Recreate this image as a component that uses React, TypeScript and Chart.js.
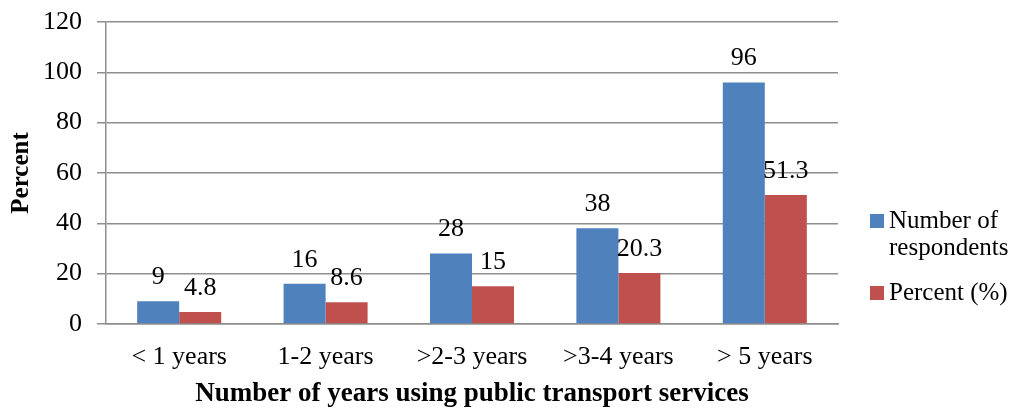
import React, { useEffect, useRef } from "react";
import { Chart, registerables } from "chart.js";

Chart.register(...registerables);

const categories = ["< 1 years", "1-2 years", ">2-3 years", ">3-4 years", "> 5 years"];
const respondents = [9, 16, 28, 38, 96];
const percents = [4.8, 8.6, 15, 20.3, 51.3];
const respondentLabels = ["9", "16", "28", "38", "96"];
const percentLabels = ["4.8", "8.6", "15", "20.3", "51.3"];
const legendLines = [["Number of", "respondents"], ["Percent (%)"]];
const yTitle = "Percent";
const xTitle = "Number of years using public transport services";

const BLUE = "#4F81BD";
const RED = "#C0504D";
const GRID = "#8e8e8e";
const FONT = "'Liberation Serif', 'Times New Roman', serif";

const valueLabels = {
  id: "valueLabels",
  afterDatasetsDraw(chart: any) {
    const ctx = chart.ctx;
    const texts = [respondentLabels, percentLabels];
    ctx.save();
    ctx.font = `26px ${FONT}`;
    ctx.fillStyle = "#000";
    ctx.textAlign = "center";
    ctx.textBaseline = "middle";
    chart.data.datasets.forEach((ds: any, di: number) => {
      const meta = chart.getDatasetMeta(di);
      meta.data.forEach((bar: any, i: number) => {
        ctx.fillText(texts[di][i], bar.x, bar.y - 24);
      });
    });
    ctx.restore();
  },
};

const sideLegend = {
  id: "sideLegend",
  afterDraw(chart: any) {
    const ctx = chart.ctx;
    const area = chart.chartArea;
    const colors = [BLUE, RED];
    const sqX = area.right + 32;
    const txtX = area.right + 51;
    const starts = [221, 293];
    ctx.save();
    ctx.font = `25px ${FONT}`;
    ctx.fillStyle = "#000";
    ctx.textAlign = "left";
    ctx.textBaseline = "middle";
    legendLines.forEach((lines, i) => {
      const y0 = starts[i];
      ctx.fillStyle = colors[i];
      ctx.fillRect(sqX, y0 - 7, 14, 14);
      ctx.fillStyle = "#000";
      lines.forEach((ln, j) => {
        ctx.fillText(ln, txtX, y0 + j * 27);
      });
    });
    ctx.restore();
  },
};

export default function App() {
  const ref = useRef<HTMLCanvasElement | null>(null);

  useEffect(() => {
    if (!ref.current) return;
    Chart.defaults.font.family = FONT;
    Chart.defaults.color = "#000";
    const chart = new Chart(ref.current, {
      type: "bar",
      data: {
        labels: categories,
        datasets: [
          {
            label: "Number of respondents",
            data: respondents,
            backgroundColor: BLUE,
            categoryPercentage: 0.574,
            barPercentage: 1,
          },
          {
            label: "Percent (%)",
            data: percents,
            backgroundColor: RED,
            categoryPercentage: 0.574,
            barPercentage: 1,
          },
        ],
      },
      options: {
        animation: false,
        responsive: false,
        maintainAspectRatio: false,
        layout: { padding: { left: 0, right: 180, top: 22, bottom: 0 } },
        plugins: {
          legend: { display: false },
          tooltip: { enabled: false },
        },
        scales: {
          x: {
            grid: { display: false, drawTicks: false },
            border: { display: true, color: GRID, width: 1.5 },
            ticks: { font: { size: 26, family: FONT }, color: "#000", padding: 18, maxRotation: 0 },
            title: {
              display: true,
              text: xTitle,
              font: { size: 27, weight: "bold", family: FONT },
              color: "#000",
              padding: { top: 0, bottom: 0 },
            },
            afterFit(scale: any) {
              scale.height = 86;
              scale.paddingLeft = 0;
              scale.paddingRight = 0;
            },
          },
          y: {
            min: 0,
            max: 120,
            ticks: { stepSize: 20, font: { size: 26, family: FONT }, color: "#000", padding: 15 },
            grid: { color: GRID, lineWidth: 1.5, tickLength: 9, drawTicks: true },
            border: { display: true, color: GRID, width: 1.5 },
            title: {
              display: true,
              text: yTitle,
              font: { size: 25, weight: "bold", family: FONT },
              color: "#000",
              padding: { top: 7, bottom: 0 },
            },
            afterFit(scale: any) {
              scale.width = 106;
              scale.paddingTop = 0;
              scale.paddingBottom = 0;
            },
          },
        },
      },
      plugins: [valueLabels, sideLegend],
    });
    return () => chart.destroy();
  }, []);

  return (
    <div style={{ position: "absolute", left: 0, top: 0, width: 1018, height: 410 }}>
      <canvas ref={ref} width={1018} height={410} style={{ display: "block", width: 1018, height: 410 }} />
    </div>
  );
}
